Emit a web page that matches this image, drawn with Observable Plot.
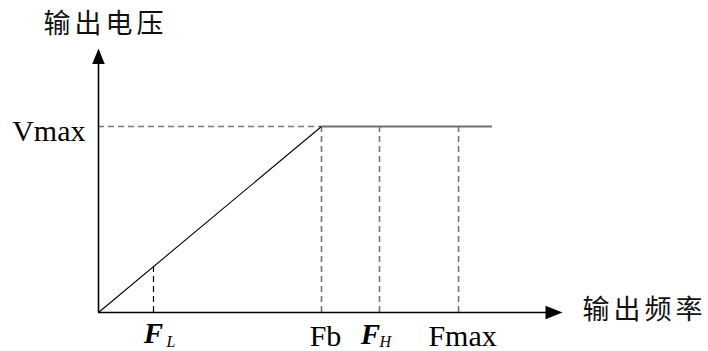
<!DOCTYPE html>
<html><head><meta charset="utf-8">
<script src="https://cdn.jsdelivr.net/npm/d3@7"></script>
<script src="https://cdn.jsdelivr.net/npm/@observablehq/plot@0.6"></script>
<style>body{margin:0;background:#fff}</style>
</head><body><div id="chart"></div>
<script>
// ---- data (relative units) ----
const axisMax = 100;                 // arrow tips of both axes
const vmax = 70.45;                  // Vmax level
const fL = 11.85, fb = 48.06, fH = 60.56, fMax = 77.6, fEnd = 84.9;
const yTitle = ["输出电压"];
const xTitle = ["输出频率"];
const vLabels = ["Vmax"];
const plainTickValues = [fb, fMax];
const plainTickLabels = ["Fb", "Fmax"];
const subTickValues = [fL, fH];
const subTickMain = ["F", "F"];
const subTickSub = ["L", "H"];
const grayTicks = [fb, fH, fMax];

// ---- helpers ----
const serif = "Liberation Serif, Times New Roman, serif";
const cjk = "Noto Sans CJK SC, sans-serif";
const upHead = {draw(ctx, size) {const r = Math.sqrt(size / Math.PI); ctx.moveTo(0, 0); ctx.lineTo(-0.8 * r, 2 * r); ctx.lineTo(0.8 * r, 2 * r); ctx.closePath();}};
const rightHead = {draw(ctx, size) {const r = Math.sqrt(size / Math.PI); ctx.moveTo(0, 0); ctx.lineTo(-2 * r, -0.78 * r); ctx.lineTo(-2 * r, 0.78 * r); ctx.closePath();}};
const dash = "6,4";
const lineData = [{f: 0, v: 0}, {f: fb, v: vmax}];
const fLHeight = vmax * fL / fb;

const chart = Plot.plot({
  width: 708, height: 351,
  marginLeft: 98, marginRight: 146, marginTop: 48, marginBottom: 39,
  x: {domain: [0, axisMax], axis: null},
  y: {domain: [0, axisMax], axis: null},
  style: {background: "#fff", overflow: "visible"},
  marks: [
    // dashed guides
    Plot.ruleY([vmax], {x1: 0, x2: fb, stroke: "#777", strokeWidth: 1.7, strokeDasharray: dash}),
    Plot.ruleX(grayTicks, {y1: 0, y2: vmax, stroke: "#777", strokeWidth: 1.6, strokeDasharray: dash}),
    Plot.ruleX([fL], {y1: 0, y2: fLHeight, stroke: "#000", strokeWidth: 1.2, strokeDasharray: dash}),
    // V/F curve
    Plot.line(lineData, {x: "f", y: "v", stroke: "#000", strokeWidth: 1.1}),
    Plot.ruleY([vmax], {x1: fb, x2: fEnd, stroke: "#6e6e6e", strokeWidth: 2}),
    // axes
    Plot.ruleY([0], {x1: 0, x2: axisMax - 2, stroke: "#000", strokeWidth: 1.6}),
    Plot.ruleX([0], {y1: 0, y2: axisMax - 2, stroke: "#000", strokeWidth: 1.6}),
    Plot.dot([0], {x: 0, y: axisMax, symbol: upHead, r: 7.8, fill: "#000", stroke: "none"}),
    Plot.dot([0], {x: axisMax, y: 0, symbol: rightHead, r: 8.5, fill: "#000", stroke: "none"}),
    // titles
    Plot.text(yTitle, {x: 0, y: axisMax, text: d => d, dx: 7, dy: -24, textAnchor: "middle", lineAnchor: "middle", fontFamily: cjk, fontSize: 27, fill: "#111"}),
    Plot.text(xTitle, {x: axisMax, y: 0, text: d => d, dx: 20, dy: -2, textAnchor: "start", lineAnchor: "middle", fontFamily: cjk, fontSize: 27, fill: "#111"}),
    // Vmax label
    Plot.text(vLabels, {x: 0, y: vmax, text: d => d, dx: -13, dy: 14, textAnchor: "end", lineAnchor: "bottom", fontFamily: serif, fontSize: 30, fill: "#000"}),
    // plain tick labels
    Plot.text(plainTickValues, {x: d => d, y: 0, text: (d, i) => plainTickLabels[i], dx: 4, dy: 33, textAnchor: "middle", lineAnchor: "bottom", fontFamily: serif, fontSize: 30, fill: "#000"}),
    // subscripted labels: F_L
    Plot.text([subTickValues[0]], {x: d => d, y: 0, text: () => subTickMain[0], dx: 0, dy: 30, textAnchor: "middle", lineAnchor: "bottom", fontFamily: serif, fontStyle: "italic", fontWeight: "bold", fontSize: 29, fill: "#000"}),
    Plot.text([subTickValues[0]], {x: d => d, y: 0, text: () => subTickSub[0], dx: 13, dy: 34, textAnchor: "start", lineAnchor: "bottom", fontFamily: serif, fontStyle: "italic", fontSize: 16, fill: "#000"}),
    // F_H
    Plot.text([subTickValues[1]], {x: d => d, y: 0, text: () => subTickMain[1], dx: -9, dy: 31, textAnchor: "middle", lineAnchor: "bottom", fontFamily: serif, fontStyle: "italic", fontWeight: "bold", fontSize: 29, fill: "#000"}),
    Plot.text([subTickValues[1]], {x: d => d, y: 0, text: () => subTickSub[1], dx: 0, dy: 34, textAnchor: "start", lineAnchor: "bottom", fontFamily: serif, fontStyle: "italic", fontSize: 16, fill: "#000"})
  ]
});
d3.select(chart).selectAll("text").filter(function() { return /[\u4e00-\u9fff]/.test(this.textContent); }).attr("letter-spacing", 4);
document.getElementById("chart").appendChild(chart);
</script>
</body></html>
